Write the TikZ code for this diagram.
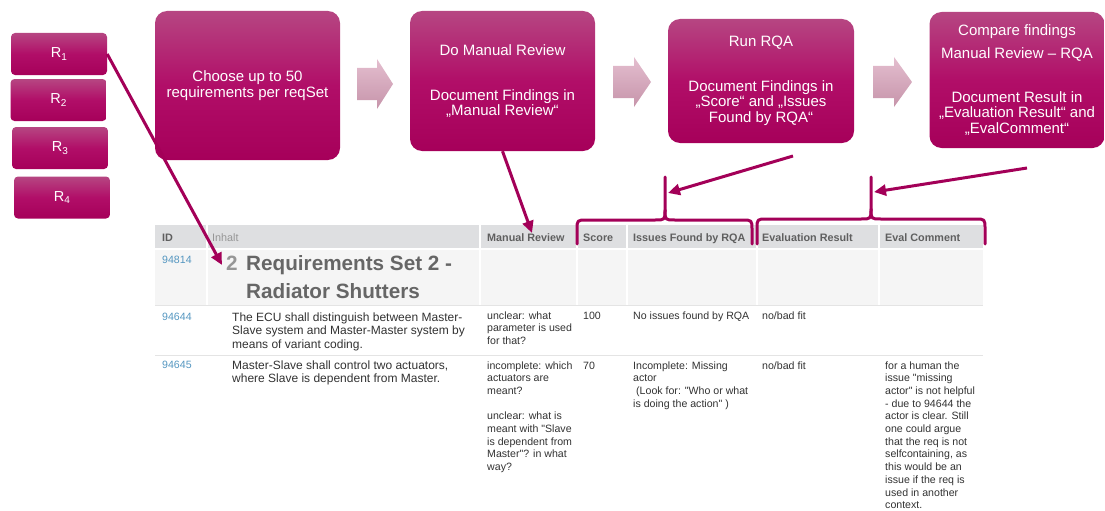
\documentclass[tikz,border=0pt]{standalone}
\usepackage{fontspec}
\setmainfont{Liberation Sans}[Ligatures=TeXOff]
\usetikzlibrary{arrows.meta}

\definecolor{boxtop}{RGB}{182,70,130}
\definecolor{boxmid}{RGB}{177,14,104}
\definecolor{boxbot}{RGB}{166,0,90}
\definecolor{mag}{RGB}{163,0,88}
\definecolor{arrtop}{RGB}{228,190,207}
\definecolor{arrbot}{RGB}{198,148,170}
\definecolor{hdrbg}{RGB}{222,223,225}
\definecolor{secbg}{RGB}{245,245,245}
\definecolor{rowline}{RGB}{228,228,228}
\definecolor{idblue}{RGB}{84,150,192}
\definecolor{bodytext}{RGB}{50,50,50}
\definecolor{hdrtext}{RGB}{95,95,95}
\definecolor{softgray}{RGB}{150,150,150}
\definecolor{headgray}{RGB}{102,102,102}

% multi-line cell text whose baseline is the first line
\newcommand{\lines}[1]{\begin{tabular}[t]{@{}l@{}}#1\end{tabular}}
\newcommand{\rsub}[1]{R\raisebox{-0.35ex}{\fontsize{10}{10}\selectfont #1}}

\begin{document}
\begin{tikzpicture}[x=1pt,y=-1pt,
  shaded/.style={top color=boxtop, bottom color=boxbot, middle color=boxmid},
  stepbox/.style={shaded, rounded corners=12pt, text=white, align=center,
    inner sep=0pt, font=\fontsize{15}{15.5}\selectfont},
  reqbox/.style={shaded, rounded corners=4pt, text=white, inner sep=0pt,
    minimum width=96pt, minimum height=42pt, font=\fontsize{14.5}{15}\selectfont},
  flow/.style={top color=arrtop, bottom color=arrbot, draw=none},
  conn/.style={draw=mag, line width=3pt, -{Triangle[length=12pt,width=11pt]}},
  curly/.style={draw=mag, line width=3pt, line cap=round, line join=round},
  hdr/.style={fill=hdrbg},
  sec/.style={fill=secbg},
  hdrlabel/.style={anchor=base west, inner sep=0pt, text=hdrtext,
    font=\fontsize{10.8}{12}\selectfont\bfseries},
  idlabel/.style={anchor=base west, inner sep=0pt, text=idblue,
    font=\fontsize{10.6}{12.7}\selectfont},
  cell/.style={anchor=base west, inner sep=0pt, text=bodytext,
    font=\fontsize{10.6}{12.7}\selectfont},
  maincell/.style={anchor=base west, inner sep=0pt, text=bodytext,
    font=\fontsize{12}{13.5}\selectfont}
]
\useasboundingbox (0,0) rectangle (1105,511);

% ---------- requirement stack ----------
\node[reqbox] (r1) at (59,54)    {\rsub{1}};
\node[reqbox] (r2) at (58.5,100) {\rsub{2}};
\node[reqbox] (r3) at (60,148)   {\rsub{3}};
\node[reqbox] (r4) at (62,197.5) {\rsub{4}};

% ---------- process steps ----------
\node[stepbox, minimum width=185pt, minimum height=149pt] (choose) at (247.5,85.5)
  {Choose up to 50\\requirements per reqSet};
\node[stepbox, minimum width=185pt, minimum height=140pt] (mr) at (502.5,81)
  {Do Manual Review\\[29.5pt]Document Findings in\\„Manual Review“};
\node[stepbox, minimum width=186pt, minimum height=124pt] (rqa) at (761,81)
  {Run RQA\\[29pt]Document Findings in\\„Score“ and „Issues\\Found by RQA“};
\node[stepbox, minimum width=175pt, minimum height=136pt] (cmp) at (1017,80)
  {Compare findings\\[7.5pt]Manual Review – RQA\\[28pt]Document Result in\\„Evaluation Result“ and\\„EvalComment“};

% block arrows between the steps
\shade[flow] (357,68) -- (377,68) -- (377,59) -- (393,84) -- (377,109) -- (377,100) -- (357,100) -- cycle;
\shade[flow] (613,66) -- (634,66) -- (634,57) -- (651,82) -- (634,107) -- (634,98) -- (613,98) -- cycle;
\shade[flow] (873,66) -- (894,66) -- (894,57) -- (912,82) -- (894,107) -- (894,98) -- (873,98) -- cycle;

% ---------- table: header row ----------
\fill[hdr] (155,225) rectangle (206,248);
\fill[hdr] (208,225) rectangle (479,248);
\fill[hdr] (481,225) rectangle (576,248);
\fill[hdr] (578,225) rectangle (626,248);
\fill[hdr] (628,225) rectangle (756,248);
\fill[hdr] (758,225) rectangle (878,248);
\fill[hdr] (880,225) rectangle (983,248);

\node[hdrlabel] (hid)  at (162,241) {ID};
\node[hdrlabel, text=softgray, font=\fontsize{10.8}{12}\selectfont] (hinh) at (212,241) {Inhalt};
\node[hdrlabel] (hmr)  at (487,241) {Manual Review};
\node[hdrlabel] (hsc)  at (583,241) {Score};
\node[hdrlabel] (his)  at (633,241) {Issues Found by RQA};
\node[hdrlabel] (hev)  at (762,241) {Evaluation Result};
\node[hdrlabel] (hec)  at (885,241) {Eval Comment};

% ---------- table: section row ----------
\fill[sec] (155,250) rectangle (206,305);
\fill[sec] (208,250) rectangle (479,305);
\fill[sec] (481,250) rectangle (576,305);
\fill[sec] (578,250) rectangle (626,305);
\fill[sec] (628,250) rectangle (756,305);
\fill[sec] (758,250) rectangle (878,305);
\fill[sec] (880,250) rectangle (983,305);

\node[idlabel] (id0) at (162,263) {94814};
\node[anchor=base west, inner sep=0pt, text=softgray,
  font=\fontsize{20.7}{28}\selectfont\bfseries] (secnum) at (226,270) {2};
\node[anchor=base west, inner sep=0pt, text=headgray,
  font=\fontsize{20.7}{28}\selectfont\bfseries] (sectitle) at (246,270)
  {\lines{Requirements Set 2 -\\Radiator Shutters}};

\draw[rowline, line width=1pt] (155,305.5) -- (983,305.5);
\draw[rowline, line width=1pt] (155,355) -- (983,355);

% ---------- table: row 94644 ----------
\node[idlabel] (id1) at (162,320) {94644};
\node[maincell] (txt1) at (232,321)
  {\lines{The ECU shall distinguish between Master-\\Slave system and Master-Master system by\\means of variant coding.}};
\node[cell] (mr1) at (487,319) {\lines{unclear: what\\parameter is used\\for that?}};
\node[cell] (sc1) at (583,319) {100};
\node[cell] (is1) at (633,319) {No issues found by RQA};
\node[cell] (ev1) at (762,319) {no/bad fit};

% ---------- table: row 94645 ----------
\node[idlabel] (id2) at (162,368) {94645};
\node[maincell] (txt2) at (232,369)
  {\lines{Master-Slave shall control two actuators,\\where Slave is dependent from Master.}};
\node[cell] (mr2) at (487,369)
  {\lines{incomplete: which\\actuators are\\meant?\\[12.7pt]unclear: what is\\meant with "Slave\\is dependent from\\Master"? in what\\way?}};
\node[cell] (sc2) at (583,369) {70};
\node[cell] (is2) at (633,369)
  {\lines{Incomplete: Missing\\actor\\\hspace*{3pt}(Look for: "Who or what\\is doing the action" )}};
\node[cell] (ev2) at (762,369) {no/bad fit};
\node[cell] (ec2) at (885,369)
  {\lines{for a human the\\issue "missing\\actor" is not helpful\\- due to 94644 the\\actor is clear. Still\\one could argue\\that the req is not\\selfcontaining, as\\this would be an\\issue if the req is\\used in another\\context.}};

% ---------- braces over the RQA and evaluation columns ----------
\draw[curly] (577,244) -- (577,230) .. controls (577,220) .. (587,220) -- (655,220)
  .. controls (665,220) .. (665,210) -- (665,177);
\draw[curly] (752,244) -- (752,230) .. controls (752,220) .. (742,220) -- (675,220)
  .. controls (665,220) .. (665,210);
\draw[curly] (757,244) -- (757,229) .. controls (757,219) .. (767,219) -- (861,219)
  .. controls (871,219) .. (871,209) -- (871,177);
\draw[curly] (985,244) -- (985,229) .. controls (985,219) .. (975,219) -- (881,219)
  .. controls (871,219) .. (871,209);

\coordinate (secin)   at (222,265);
\coordinate (mrin)    at (532,233);
\coordinate (rqaout)  at (793,156);
\coordinate (brace1)  at (668,193);
\coordinate (cmpout)  at (1027,168);
\coordinate (brace2)  at (874,192);

% ---------- connectors ----------
\draw[conn] (r1.east) -- (secin);
\draw[conn] (mr.south) -- (mrin);
\draw[conn] (rqaout) -- (brace1);
\draw[conn] (cmpout) -- (brace2);
\end{tikzpicture}
\end{document}
